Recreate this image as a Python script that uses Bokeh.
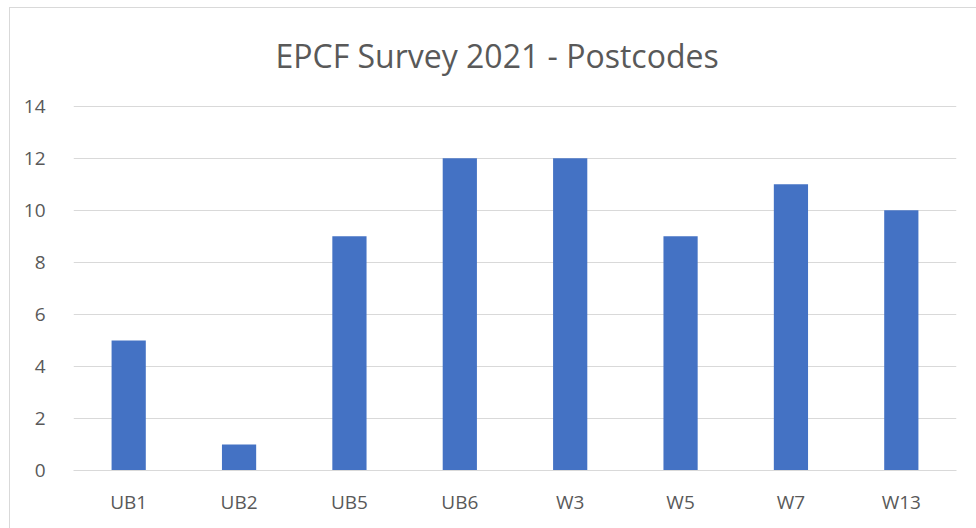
from bokeh.plotting import figure
from bokeh.models import ColumnDataSource, FixedTicker, Range1d
from bokeh.embed import file_html
from bokeh.resources import INLINE

categories = ["UB1", "UB2", "UB5", "UB6", "W3", "W5", "W7", "W13"]
counts = [5, 1, 9, 12, 12, 9, 11, 10]
y_ticks = [0, 2, 4, 6, 8, 10, 12, 14]
title_text = "EPCF Survey 2021 - Postcodes"

FONT = "Open Sans"
TEXT = "#595959"
GRID = "#d9d9d9"

source = ColumnDataSource(data=dict(cat=categories, n=counts))

p = figure(
    x_range=categories,
    y_range=Range1d(0, 14.03),
    width=976,
    height=528,
    output_backend="svg",
    toolbar_location=None,
    min_border_left=73,
    min_border_right=20,
    min_border_top=105,
    min_border_bottom=58,
    title=title_text,
)
p.x_range.range_padding = 0
p.outline_line_color = None
p.background_fill_color = "white"
p.border_fill_alpha = 0
p.styles = {
    "background": "linear-gradient(#d9d9d9,#d9d9d9) 9px 7px / 1px 100% no-repeat, "
                  "linear-gradient(#d9d9d9,#d9d9d9) 9px 7px / 100% 1px no-repeat, white",
}

p.vbar(x="cat", top="n", width=0.31, source=source,
       fill_color="#4472C4", line_color=None)

p.title.text_font = FONT
p.title.text_font_size = "32px"
p.title.text_font_style = "normal"
p.title.text_color = TEXT
p.title.align = "left"
p.title.offset = 202
p.title.standoff = 57

p.yaxis.ticker = FixedTicker(ticks=y_ticks)
p.yaxis.axis_line_color = None
p.yaxis.major_tick_line_color = None
p.yaxis.minor_tick_line_color = None
p.yaxis.major_label_text_font = FONT
p.yaxis.major_label_text_font_size = "19px"
p.yaxis.major_label_text_color = TEXT
p.yaxis.major_label_standoff = 22

p.xaxis.axis_line_color = GRID
p.xaxis.major_tick_line_color = None
p.xaxis.minor_tick_line_color = None
p.xaxis.major_label_text_font = FONT
p.xaxis.major_label_text_font_size = "19px"
p.xaxis.major_label_text_color = TEXT
p.xaxis.major_label_standoff = 12

p.xgrid.grid_line_color = None
p.ygrid.grid_line_color = GRID
p.ygrid.grid_line_width = 1

open("out.html", "w").write(file_html(p, INLINE))
